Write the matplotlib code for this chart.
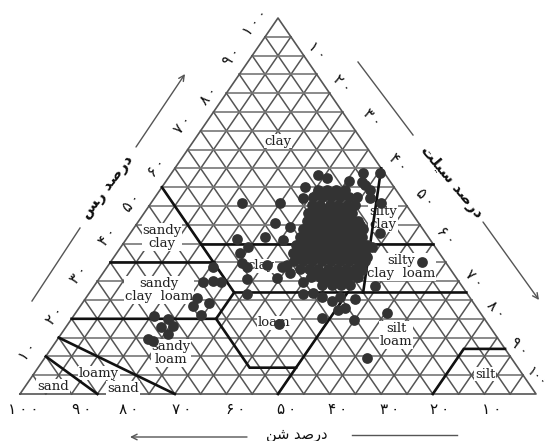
import matplotlib
matplotlib.use('Agg')
import matplotlib.pyplot as plt
from matplotlib.transforms import Affine2D
import numpy as np

# percent clay / percent sand of each soil sample
clay = [54.3, 54.3, 54.3, 54.3,
        52.4, 52.4, 52.4, 52.4, 52.4,
        50.3, 50.3, 50.3, 50.3, 50.3, 50.3,
        48.1, 48.1, 48.1, 48.1, 48.1, 48.1,
        46.0, 46.0, 46.0, 46.0, 46.0, 46.0, 46.0,
        43.9, 43.9, 43.9, 43.9, 43.9, 43.9, 43.9, 43.9,
        41.8, 41.8, 41.8, 41.8, 41.8, 41.8, 41.8, 41.8,
        39.6, 39.6, 39.6, 39.6, 39.6, 39.6, 39.6, 39.6, 39.6,
        37.5, 37.5, 37.5, 37.5, 37.5, 37.5, 37.5, 37.5, 37.5,
        35.4, 35.4, 35.4, 35.4, 35.4, 35.4, 35.4, 35.4, 35.4,
        33.2, 33.2, 33.2, 33.2, 33.2, 33.2, 33.2, 33.2,
        31.1, 31.1, 31.1, 31.1, 31.1, 31.1,
        29.0, 29.0, 29.0, 29.0,
        49.2, 49.2, 49.2, 49.2,
        44.9, 44.9, 44.9, 44.9, 44.9, 44.9,
        40.7, 40.7, 40.7, 40.7, 40.7, 40.7,
        36.4, 36.4, 36.4, 36.4, 36.4, 36.4, 36.4,
        32.2, 32.2, 32.2, 32.2, 32.2,
        53.5, 53.5, 53.5,
        47.1, 47.1, 47.1, 47.1, 47.1,
        42.8, 42.8, 42.8, 42.8, 42.8, 42.8,
        38.6, 38.6, 38.6, 38.6, 38.6, 38.6, 38.6,
        30.1, 30.1, 30.1,
        58.8, 58.8, 58.2, 57.4, 56.6, 56.4, 55.6, 54.3, 55.1, 52.1, 52.4, 52.1, 50.8,
        42.8, 35.1, 50.8, 50.8, 45.5, 41.8, 41.2, 39.1, 37.5, 34.9, 33.8, 34.3, 33.8,
        30.6, 30.9, 26.6, 29.8, 30.1, 29.8, 25.5, 23.4, 24.2, 21.0, 20.7, 19.9, 18.1,
        17.8, 16.0, 14.6, 14.1, 44.4, 41.0, 34.3, 32.2, 33.8, 29.8, 26.6, 26.9, 25.8,
        24.7, 25.8, 25.3, 28.7, 22.9, 22.3, 20.2, 19.7, 21.5, 9.6, 18.6, 39.1, 36.4,
        33.0, 31.1]
sand = [15.1, 13.4, 11.7, 9.9,
        17.0, 15.3, 13.5, 11.8, 10.0,
        18.3, 16.8, 14.8, 13.3, 11.5, 10.0,
        20.1, 18.5, 16.6, 14.9, 13.1, 11.6,
        21.4, 19.8, 17.9, 16.1, 14.4, 12.7, 11.5,
        23.3, 21.5, 19.8, 18.0, 16.3, 14.5, 12.8, 11.6,
        24.8, 23.1, 21.3, 19.6, 17.7, 15.9, 14.2, 12.8,
        26.7, 25.0, 23.2, 21.5, 19.5, 17.8, 16.1, 14.3, 13.0,
        28.3, 26.6, 24.8, 23.1, 21.4, 19.6, 17.9, 16.1, 14.4,
        29.2, 27.5, 25.7, 23.8, 22.0, 20.3, 18.5, 16.8, 15.4,
        29.1, 27.4, 25.6, 23.7, 22.0, 20.2, 18.5, 17.1,
        28.0, 26.3, 24.3, 22.6, 20.8, 19.1,
        27.0, 25.0, 23.3, 21.5,
        18.4, 16.5, 14.5, 12.8,
        21.5, 19.4, 17.4, 15.5, 13.5, 11.6,
        24.6, 22.6, 20.5, 18.6, 16.6, 14.7,
        27.9, 26.0, 24.0, 22.1, 20.2, 18.2, 16.3,
        26.7, 24.8, 22.9, 20.9, 19.0,
        14.8, 12.8, 10.9,
        20.0, 18.1, 16.1, 14.2, 12.4,
        23.2, 21.2, 19.3, 17.4, 15.4, 13.5,
        26.4, 24.5, 22.6, 20.6, 18.7, 16.7, 14.8,
        25.9, 23.8, 21.8,
        0.8, 4.1, 13.1, 11.8, 7.9, 5.5, 5.3, 5.1, 17.3, 19.2, 8.5, 6.1, 4.6,
        8.8, 4.5, 31.6, 24.2, 27.9, 31.6, 37.3, 36.2, 38.6, 39.6, 39.1, 34.9, 45.7,
        40.7, 34.8, 42.7, 49.6, 47.6, 46.1, 52.9, 54.8, 51.3, 54.4, 63.6, 61.3, 61.3,
        63.8, 63.3, 67.9, 67.2, 25.5, 28.5, 31.1, 31.6, 32.3, 30.3, 31.9, 29.8, 28.6,
        27.1, 25.1, 22.5, 16.8, 25.5, 27.2, 31.4, 25.4, 18.1, 28.0, 40.5, 12.2, 14.6,
        17.2, 18.9]

# texture class boundaries as (clay, sand)
boundaries = [
    [(10, 90), (0, 85)],
    [(15, 85), (0, 70)],
    [(20, 80), (20, 52), (27, 45), (27, 0)],
    [(35, 65), (35, 45)],
    [(55, 45), (27, 45)],
    [(40, 45), (40, 0)],
    [(60, 0), (27, 20)],
    [(20, 52), (7, 52), (7, 43)],
    [(27, 23), (0, 50)],
    [(0, 20), (12, 8), (12, 0)],
]

ticks = [10, 20, 30, 40, 50, 60, 70, 80, 90, 100]
tick_names = ['۱\u2009۰', '۲\u2009۰', '۳\u2009۰', '۴\u2009۰', '۵\u2009۰',
              '۶\u2009۰', '۷\u2009۰', '۸\u2009۰', '۹\u2009۰', '۱\u2009۰\u2009۰']
right_names = tick_names[:9] + ['۱۰۰']

# label offsets from the tick on the triangle edge, in pixels
left_dx = [-18, -17, -19, -15, -17, -18, -18, -18, -20, -23]
left_dy = [5, 3, 6, 7, 3, 1, 6, -2, -1, -4]
right_dx = [13, 12, 17, 17, 18, 13, 15, 12, 9, 0]
right_dy = [5, 10, 13, 6, 8, 8, 3, 9, 10, 17]
bottom_dx = [7, 7, 8, 8, 9, 9, 7, 5, 10, 3]

classes = [('clay', 278, 141), ('sandy\nclay', 162, 237), ('sandy\nclay  loam', 159, 290),
           ('clay', 261, 266), ('loam', 274, 323), ('sandy\nloam', 171, 353),
           ('loamy', 99, 373), ('sand', 53, 386), ('sand', 123, 388),
           ('silty\nclay', 383, 218), ('silty\nclay  loam', 401, 267),
           ('silt\nloam', 396, 335), ('silt', 485, 374)]


def tx(c, s):
    return 100 - np.asarray(s, dtype=float) - np.asarray(c, dtype=float) / 2


fig = plt.figure(figsize=(5.48, 4.41), dpi=100)
ax = fig.add_axes([0, 0, 1, 1])
ax.set_xlim(-20 / 5.16, 528 / 5.16)
ax.set_ylim(-47 / 3.76, 394 / 3.76)
ax.axis('off')

# image pixels, y going down
pix = Affine2D().scale(1, -1).translate(0, 441)

for i in range(5, 100, 5):
    ax.plot(tx([i, i], [100 - i, 0]), [i, i], color='#777777', lw=1.2, zorder=1)
    ax.plot(tx([0, 100 - i], [i, i]), [0, 100 - i], color='#555555', lw=1.1, zorder=1)
    ax.plot(tx([0, 100 - i], [100 - i, 0]), [0, 100 - i], color='#555555', lw=1.1, zorder=1)
ax.plot(tx([0, 100, 0, 0], [100, 0, 0, 100]), [0, 100, 0, 0], color='#555555', lw=1.2, zorder=1)

for name, px, py in classes:
    ax.text(px, py, name, transform=pix, family='DejaVu Serif', fontsize=9.5, color='#222222',
            ha='center', va='center', linespacing=1.0, zorder=2,
            bbox=dict(facecolor='white', edgecolor='none', pad=0.6))

for b in boundaries:
    c = [p[0] for p in b]
    s = [p[1] for p in b]
    ax.plot(tx(c, s), c, color='#111111', lw=1.9, zorder=3, solid_joinstyle='miter')

ax.scatter(tx(clay, sand), clay, s=60, color='#333333', linewidths=0, zorder=4)

for i, t in enumerate(ticks):
    ax.annotate(tick_names[i], (tx(t, 100 - t), t),
                xytext=(left_dx[i], left_dy[i]), textcoords='offset pixels', rotation=50,
                ha='center', va='center', fontsize=11, color='#111111', annotation_clip=False)
    ax.annotate(right_names[i], (tx(100 - t, 0), 100 - t),
                xytext=(right_dx[i], right_dy[i]), textcoords='offset pixels', rotation=-45,
                ha='center', va='center', fontsize=10 if t == 100 else 11, color='#111111',
                annotation_clip=False)
    ax.annotate(tick_names[i], (tx(0, t), 0),
                xytext=(bottom_dx[i], -15), textcoords='offset pixels',
                ha='center', va='center', fontsize=11, color='#111111', annotation_clip=False)

# axis titles (shaped forms in visual order, matplotlib does no shaping)
ax.text(108, 187, 'ﺲﺭ ﺪﺻﺭﺩ', transform=pix, rotation=53, rotation_mode='anchor', ha='center', va='center',
        fontsize=11, color='#111111', fontweight='bold')
ax.text(451, 182, 'ﺖﻠﯿﺳ ﺪﺻﺭﺩ', transform=pix, rotation=-50, rotation_mode='anchor', ha='center', va='center',
        fontsize=11, color='#111111', fontweight='bold')
ax.text(297, 435, 'ﻦﺷ ﺪﺻﺭﺩ', transform=pix, ha='center', va='center',
        fontsize=10.5, color='#111111')

line_style = dict(color='#555555', lw=1.0, zorder=1)
ax.plot([32, 80], [301, 228], transform=pix, **line_style)
ax.plot([358, 413], [62, 135], transform=pix, **line_style)
ax.plot([352, 457], [435, 435], transform=pix, **line_style)
for start, end in [((136, 147), (185, 74)), ((483, 222), (539, 300)), ((247, 437), (130, 437))]:
    ax.annotate('', xy=end, xytext=start, xycoords=pix, textcoords=pix,
                arrowprops=dict(arrowstyle='->', color='#555555', lw=1.0, shrinkA=0, shrinkB=0))

fig.savefig('out.png', dpi=100)
